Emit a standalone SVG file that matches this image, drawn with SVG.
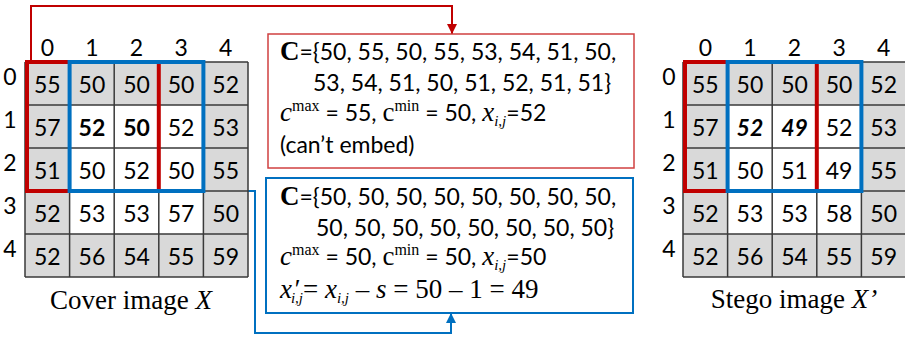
<svg xmlns="http://www.w3.org/2000/svg" width="905" height="343" viewBox="0 0 905 343">
<style>
.n{font-family:Lato,"Liberation Sans",sans-serif;font-size:23px;text-anchor:middle;fill:#000}
.h{font-family:Lato,"Liberation Sans",sans-serif;font-size:23px;text-anchor:middle;fill:#000}
.s{font-family:Lato,"Liberation Sans",sans-serif;font-size:23px;fill:#000}
.t{font-family:"Liberation Serif","Times New Roman",serif}
.cap{font-family:"Liberation Serif","Times New Roman",serif;font-size:27px;text-anchor:middle;fill:#000}
.gl{fill:none;stroke:#3a3a3a;stroke-width:1.5}
.red{fill:none;stroke:#c00000;stroke-width:4}
.blue{fill:none;stroke:#0070c0;stroke-width:4}
.cr{fill:none;stroke:#c00000;stroke-width:2}
.cb{fill:none;stroke:#0070c0;stroke-width:2}
.b{font-weight:bold}
.bi{font-weight:bold;font-style:italic}
</style>
<defs>
<marker id="ar" viewBox="0 0 10 10" refX="10" refY="5" markerWidth="5" markerHeight="5" orient="auto" markerUnits="strokeWidth"><path d="M0,0 L10,5 L0,10 z" fill="#c00000"/></marker>
<marker id="ab" viewBox="0 0 10 10" refX="10" refY="5" markerWidth="5" markerHeight="5" orient="auto" markerUnits="strokeWidth"><path d="M0,0 L10,5 L0,10 z" fill="#0070c0"/></marker>
</defs>
<rect width="905" height="343" fill="#fff"/>

<g id="connectors">
<polyline class="cr" points="31,62 31,6 452,6 452,34" marker-end="url(#ar)"/>
<polyline class="cb" points="203.4,191 255,191 255,333 451,333 451,313" marker-end="url(#ab)"/>
</g>

<g id="cover-grid">
<rect x="25" y="62" width="223" height="215" fill="#d9d9d9"/>
<rect x="69.6" y="105" width="133.8" height="129" fill="#fff"/>
<path class="gl" d="M25,62V277M69.6,62V277M114.2,62V277M158.8,62V277M203.4,62V277M248,62V277M25,62H248M25,105H248M25,148H248M25,191H248M25,234H248M25,277H248"/>
<g class="h">
<text x="47.3" y="56">0</text><text x="91.9" y="56">1</text><text x="136.5" y="56">2</text><text x="181.1" y="56">3</text><text x="225.7" y="56">4</text>
<text x="10" y="85">0</text><text x="10" y="128">1</text><text x="10" y="171">2</text><text x="10" y="214">3</text><text x="10" y="257">4</text>
</g>
<g class="n">
<text x="47.3" y="93">55</text><text x="91.9" y="93">50</text><text x="136.5" y="93">50</text><text x="181.1" y="93">50</text><text x="225.7" y="93">52</text>
<text x="47.3" y="136">57</text><text x="91.9" y="136" class="b">52</text><text x="136.5" y="136" class="b">50</text><text x="181.1" y="136">52</text><text x="225.7" y="136">53</text>
<text x="47.3" y="179">51</text><text x="91.9" y="179">50</text><text x="136.5" y="179">52</text><text x="181.1" y="179">50</text><text x="225.7" y="179">55</text>
<text x="47.3" y="222">52</text><text x="91.9" y="222">53</text><text x="136.5" y="222">53</text><text x="181.1" y="222">57</text><text x="225.7" y="222">50</text>
<text x="47.3" y="265">52</text><text x="91.9" y="265">56</text><text x="136.5" y="265">54</text><text x="181.1" y="265">55</text><text x="225.7" y="265">59</text>
</g>
<rect class="red" x="27" y="62" width="131.8" height="129"/>
<rect class="blue" x="69.6" y="62" width="133.8" height="129"/>
<text class="cap" x="131" y="309">Cover image <tspan font-style="italic">X</tspan></text>
</g>

<g id="stego-grid">
<rect x="683" y="62" width="223" height="215" fill="#d9d9d9"/>
<rect x="727.6" y="105" width="133.8" height="129" fill="#fff"/>
<path class="gl" d="M683,62V277M727.6,62V277M772.2,62V277M816.8,62V277M861.4,62V277M683,62H906M683,105H906M683,148H906M683,191H906M683,234H906M683,277H906"/>
<g class="h">
<text x="705.3" y="56">0</text><text x="749.9" y="56">1</text><text x="794.5" y="56">2</text><text x="839.1" y="56">3</text><text x="883.7" y="56">4</text>
<text x="669" y="85">0</text><text x="669" y="128">1</text><text x="669" y="171">2</text><text x="669" y="214">3</text><text x="669" y="257">4</text>
</g>
<g class="n">
<text x="705.3" y="93">55</text><text x="749.9" y="93">50</text><text x="794.5" y="93">50</text><text x="839.1" y="93">50</text><text x="883.7" y="93">52</text>
<text x="705.3" y="136">57</text><text x="749.9" y="136" class="bi">52</text><text x="794.5" y="136" class="bi">49</text><text x="839.1" y="136">52</text><text x="883.7" y="136">53</text>
<text x="705.3" y="179">51</text><text x="749.9" y="179">50</text><text x="794.5" y="179">51</text><text x="839.1" y="179">49</text><text x="883.7" y="179">55</text>
<text x="705.3" y="222">52</text><text x="749.9" y="222">53</text><text x="794.5" y="222">53</text><text x="839.1" y="222">58</text><text x="883.7" y="222">50</text>
<text x="705.3" y="265">52</text><text x="749.9" y="265">56</text><text x="794.5" y="265">54</text><text x="839.1" y="265">55</text><text x="883.7" y="265">59</text>
</g>
<rect class="red" x="685" y="62" width="131.8" height="129"/>
<rect class="blue" x="727.6" y="62" width="133.8" height="129"/>
<text class="cap" x="794" y="308">Stego image <tspan font-style="italic">X’</tspan></text>
</g>

<g id="red-box">
<rect x="268" y="34" width="366" height="134" fill="#fff" stroke="#d04040" stroke-width="1.5"/>
<text class="s" x="280" y="60"><tspan class="t b" font-size="27">C</tspan>={50, 55, 50, 55, 53, 54, 51, 50,</text>
<text class="s" x="313" y="91">53, 54, 51, 50, 51, 52, 51, 51}</text>
<text class="s" x="280" y="121"><tspan class="t" font-style="italic" font-size="27">c</tspan><tspan class="t" font-size="16" dy="-10">max</tspan><tspan dy="10"> = 55, </tspan><tspan class="t" font-size="27">c</tspan><tspan class="t" font-size="16" dy="-10">min</tspan><tspan dy="10"> = 50, </tspan><tspan class="t" font-style="italic" font-size="27">x</tspan><tspan class="t" font-style="italic" font-size="15" dy="5">i,j</tspan><tspan dy="-5">=52</tspan></text>
<text class="s" x="280" y="153">(can’t embed)</text>
</g>

<g id="blue-box">
<rect x="266" y="178" width="367" height="135" fill="#fff" stroke="#0070c0" stroke-width="2"/>
<text class="s" x="280" y="205"><tspan class="t b" font-size="27">C</tspan>={50, 50, 50, 50, 50, 50, 50, 50,</text>
<text class="s" x="316" y="236">50, 50, 50, 50, 50, 50, 50, 50}</text>
<text class="s" x="280" y="265"><tspan class="t" font-style="italic" font-size="27">c</tspan><tspan class="t" font-size="16" dy="-10">max</tspan><tspan dy="10"> = 50, </tspan><tspan class="t" font-size="27">c</tspan><tspan class="t" font-size="16" dy="-10">min</tspan><tspan dy="10"> = 50, </tspan><tspan class="t" font-style="italic" font-size="27">x</tspan><tspan class="t" font-style="italic" font-size="15" dy="5">i,j</tspan><tspan dy="-5">=50</tspan></text>
<text class="t" x="280" y="298" font-size="27"><tspan font-style="italic">x</tspan><tspan font-style="italic" dx="1">′</tspan><tspan font-style="italic" font-size="15" dx="-8" dy="5">i,j</tspan><tspan dy="-5">= </tspan><tspan font-style="italic">x</tspan><tspan font-style="italic" font-size="15" dy="5">i,j</tspan><tspan dy="-5"> – </tspan><tspan font-style="italic">s</tspan> = 50 – 1 = 49</text>
</g>
</svg>
